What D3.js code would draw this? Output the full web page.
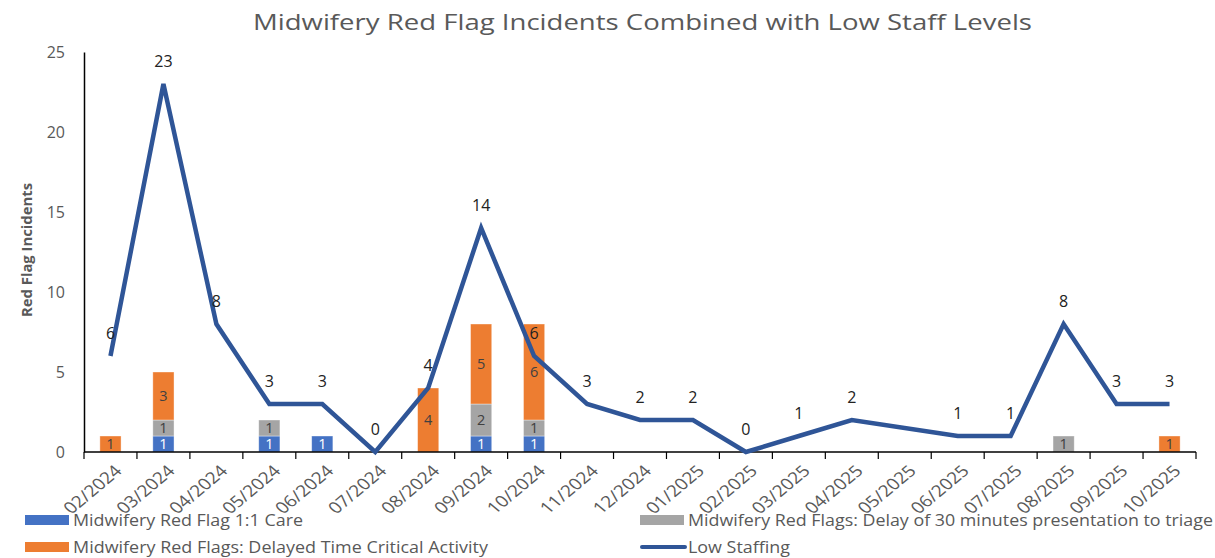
<!DOCTYPE html>
<html><head><meta charset="utf-8">
<script src="https://cdn.jsdelivr.net/npm/d3@7"></script>
<style>body{margin:0;background:#fff}svg{display:block}text{font-family:"Open Sans","Noto Sans",sans-serif}</style>
</head><body><svg id="c" width="1215" height="558"></svg>
<script>
const months = ["02/2024","03/2024","04/2024","05/2024","06/2024","07/2024","08/2024","09/2024","10/2024","11/2024","12/2024","01/2025","02/2025","03/2025","04/2025","05/2025","06/2025","07/2025","08/2025","09/2025","10/2025"];
const careOneToOne = [0,1,0,1,1,0,0,1,1,0,0,0,0,0,0,0,0,0,0,0,0];
const delayTriage  = [0,1,0,1,0,0,0,2,1,0,0,0,0,0,0,0,0,0,1,0,0];
const delayedTCA   = [1,3,0,0,0,0,4,5,6,0,0,0,0,0,0,0,0,0,0,0,1];
const lowStaffing  = [6,23,8,3,3,0,4,14,6,3,2,2,0,1,2,null,1,1,8,3,3];
const yTicks = [0,5,10,15,20,25];
const seriesNames = ["Midwifery Red Flag 1:1 Care","Midwifery Red Flags: Delay of 30 minutes presentation to triage","Midwifery Red Flags: Delayed Time Critical Activity","Low Staffing"];
const colors = ["#4472C4","#A5A5A5","#ED7D31","#2F5597"];

const svg = d3.select("#c");
const x = d3.scaleBand().domain(months).range([84,1196]).padding(0);
const y = d3.scaleLinear().domain([0,25]).range([452,52]);
const bw = x.bandwidth()*0.4;
const cx = m => x(m)+x.bandwidth()/2;

svg.append("text").attr("x",253).attr("y",30)
  .attr("font-size",22.5).attr("fill","#595959").attr("textLength",779).attr("lengthAdjust","spacingAndGlyphs")
  .text("Midwifery Red Flag Incidents Combined with Low Staff Levels");

// y axis
const ya = svg.append("g").attr("transform","translate(84,0)")
  .call(d3.axisLeft(y).tickValues(yTicks).tickSize(0).tickPadding(19));
ya.select(".domain").attr("stroke","#000").attr("stroke-width",1.5);
ya.selectAll("text").attr("font-size",16).attr("fill","#595959").attr("font-family","'Open Sans',sans-serif");

svg.append("text").attr("transform","translate(32,250) rotate(-90)").attr("text-anchor","middle")
  .attr("font-size",13.5).attr("font-weight","bold").attr("fill","#595959").attr("textLength",134).attr("lengthAdjust","spacingAndGlyphs")
  .text("Red Flag Incidents");

// stacked bars
const stackData = months.map((m,i)=>({m, a:careOneToOne[i], b:delayTriage[i], c:delayedTCA[i]}));
const stack = d3.stack().keys(["a","b","c"])(stackData);
const textCol = ["#fff","#404040","#404040"];
stack.forEach((layer,li)=>{
  const g = svg.append("g");
  layer.forEach(d=>{
    const v = d[1]-d[0];
    if(!v) return;
    const c = cx(d.data.m);
    g.append("rect").attr("x",c-bw/2).attr("width",bw).attr("y",y(d[1])).attr("height",y(d[0])-y(d[1]))
      .attr("fill",colors[li]).attr("stroke","#fff").attr("stroke-opacity",0.5).attr("stroke-width",0.75);
    g.append("text").attr("x",c).attr("y",(y(d[0])+y(d[1]))/2).attr("dy","0.36em").attr("text-anchor","middle")
      .attr("font-size",14.5).attr("fill",textCol[li]).text(v);
  });
});

// x axis
const xa = svg.append("g").attr("transform","translate(0,452)");
xa.append("line").attr("x1",84).attr("x2",1196).attr("stroke","#000").attr("stroke-width",1.5);
const bounds = months.map(m=>x(m)).concat([x.range()[1]]);
xa.selectAll("line.t").data(bounds).enter().append("line").attr("class","t")
  .attr("x1",d=>d).attr("x2",d=>d).attr("y1",0).attr("y2",7).attr("stroke","#000").attr("stroke-width",1.2);
xa.selectAll("text").data(months).enter().append("text")
  .attr("transform",d=>`translate(${cx(d)+3},12) scale(1.2,1) rotate(-45)`)
  .attr("text-anchor","end").attr("dy","0.7em").attr("font-size",16).attr("fill","#595959").text(d=>d);

// line
const pts = months.map((m,i)=>({m,v:lowStaffing[i]})).filter(d=>d.v!==null);
svg.append("path").datum(pts).attr("fill","none").attr("stroke",colors[3]).attr("stroke-width",4.5).attr("stroke-linejoin","miter")
  .attr("d",d3.line().x(d=>cx(d.m)).y(d=>y(d.v)));
svg.append("g").selectAll("text").data(pts).enter().append("text")
  .attr("x",d=>cx(d.m)).attr("y",d=>y(d.v)-17).attr("text-anchor","middle")
  .attr("font-size",16).attr("fill","#222").text(d=>d.v);

// legend
const leg = [{i:0,x:25,y:520,w:230},{i:1,x:640,y:520,w:525},{i:2,x:25,y:547,w:415},{i:3,x:640,y:547,w:102}];
leg.forEach(l=>{
  const g = svg.append("g");
  if(l.i<3) g.append("rect").attr("x",l.x).attr("y",l.y-5).attr("width",44).attr("height",10).attr("fill",colors[l.i]);
  else g.append("line").attr("x1",l.x+2).attr("x2",l.x+45).attr("y1",l.y).attr("y2",l.y).attr("stroke",colors[3]).attr("stroke-width",4).attr("stroke-linecap","round");
  g.append("text").attr("x",l.x+48).attr("y",l.y).attr("dy","0.36em").attr("font-size",15.5).attr("fill","#595959")
    .attr("textLength",l.w).attr("lengthAdjust","spacingAndGlyphs").text(seriesNames[l.i]);
});
</script></body></html>
